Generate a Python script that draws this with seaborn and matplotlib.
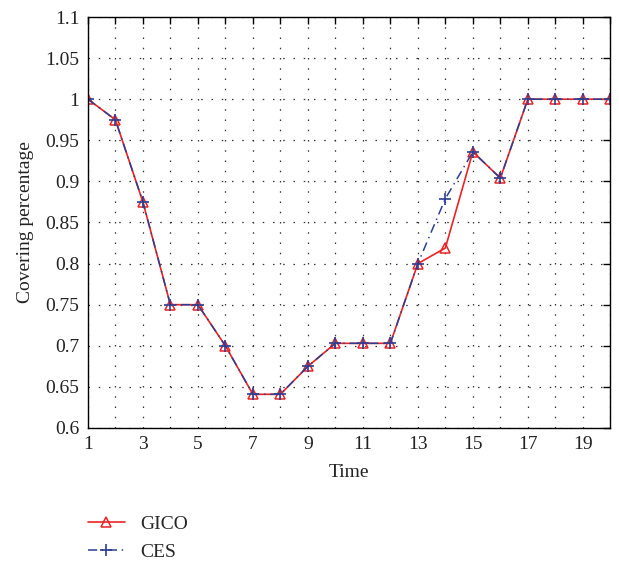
import matplotlib
matplotlib.use("Agg")
import matplotlib.pyplot as plt
import seaborn as sns
import numpy as np
import pandas as pd

time = list(range(1, 21))
gico = [1.0, 0.975, 0.875, 0.75, 0.75, 0.70, 0.641, 0.641, 0.675, 0.703,
        0.703, 0.703, 0.80, 0.819, 0.936, 0.904, 1.0, 1.0, 1.0, 1.0]
ces = [1.0, 0.975, 0.875, 0.75, 0.75, 0.70, 0.641, 0.641, 0.675, 0.703,
       0.703, 0.703, 0.80, 0.879, 0.936, 0.904, 1.0, 1.0, 1.0, 1.0]
y_ticks = [0.6, 0.65, 0.7, 0.75, 0.8, 0.85, 0.9, 0.95, 1.0, 1.05, 1.1]
y_tick_labels = ["0.6", "0.65", "0.7", "0.75", "0.8", "0.85", "0.9", "0.95", "1", "1.05", "1.1"]

sns.set_theme(style="white")
plt.rcParams["font.family"] = ["Liberation Serif", "DejaVu Serif"]

red = "#ee2222"
blue = "#2c3e94"

fig = plt.figure(figsize=(6.19, 5.63), dpi=100)
ax = fig.add_axes([0.142, 0.2398, 0.844, 0.730])

df = pd.DataFrame({"Time": time, "GICO": gico, "CES": ces})

sns.lineplot(data=df, x="Time", y="GICO", ax=ax, color=red, lw=1.2,
             marker="^", markersize=7.5, markerfacecolor="none",
             markeredgecolor=red, markeredgewidth=1.1, label="GICO")
sns.lineplot(data=df, x="Time", y="CES", ax=ax, color=blue, lw=1.1,
             linestyle=(0, (6, 3, 1, 3)), marker="+", markersize=8,
             markeredgewidth=1.2, markeredgecolor=blue, label="CES")

ax.set_xlim(1, 20)
ax.set_ylim(0.6, 1.1)
ax.set_xticks(time)
ax.set_xticklabels([str(t) if t % 2 == 1 else "" for t in time])
ax.set_yticks(y_ticks)
ax.set_yticklabels(y_tick_labels)

ax.grid(True, linestyle=(0, (1.2, 7)), color="#333333", lw=0.9)
for s in ax.spines.values():
    s.set_color("black")
    s.set_linewidth(1.0)
ax.tick_params(direction="in", length=5, width=1, top=True, right=True,
               labelsize=14, colors="black", pad=6)
for lbl in ax.get_xticklabels() + ax.get_yticklabels():
    lbl.set_color("#222222")

ax.set_xlabel("Time", fontsize=14, color="#222222", labelpad=8)
ax.set_ylabel("Covering percentage", fontsize=14, color="#222222", labelpad=8)

ax.legend_.remove()
handles, labels = ax.get_legend_handles_labels()
fig.legend(handles, labels, loc="upper left", bbox_to_anchor=(0.142, 0.085),
           frameon=False, fontsize=14, handlelength=1.9, handletextpad=0.8,
           labelspacing=0.55, borderaxespad=0, borderpad=0)

fig.savefig("out.png", dpi=100)
